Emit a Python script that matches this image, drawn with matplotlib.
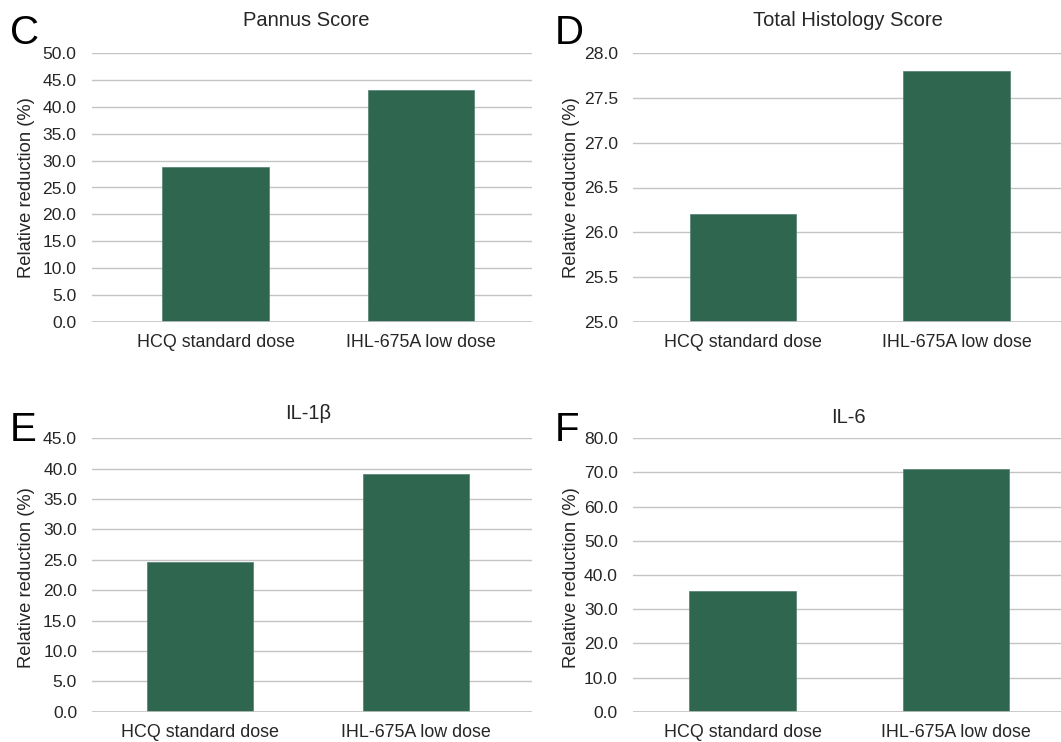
import matplotlib
matplotlib.use("Agg")
import matplotlib.pyplot as plt

plt.rcParams['font.family'] = ['Liberation Sans', 'DejaVu Sans']

categories = ["HCQ standard dose", "IHL-675A low dose"]
panel_letters = ["C", "D", "E", "F"]
titles = ["Pannus Score", "Total Histology Score", "IL-1β", "IL-6"]
pannus = [28.8, 43.2]
total_histology = [26.2, 27.8]
il1b = [24.6, 39.1]
il6 = [35.4, 71.0]
series = [pannus, total_histology, il1b, il6]
ylims = [(0, 50), (25, 28), (0, 45), (0, 80)]
ysteps = [5.0, 0.5, 5.0, 10.0]
ylabel = "Relative reduction (%)"

W, H = 1061, 742
# layout in pixels: left, right, top, bottom of plot area; xlim; bar width
layout = [
    (91.7, 531.7, 53.3, 321.7, (-0.603, 1.538), 0.519),
    (633.3, 1061, 53.3, 321.7, (-0.515, 1.489), 0.498),
    (92.3, 531.7, 438.3, 711.7, (-0.498, 1.537), 0.492),
    (633.0, 1061, 438.3, 711.7, (-0.513, 1.491), 0.498),
]
title_pos = [(306.7, 20.7), (848.3, 20.7), (308, 413.3), (848.3, 417.7)]
letter_pos = [(24.5, 32.5), (569, 32.5), (23.5, 430), (567.5, 430)]
ylabel_pos = [(26.7, 187.5), (571.7, 187.5), (26.7, 578), (571.7, 578)]

bar_color = "#2e6650"
grid_color = "#c4c4c4"
text_color = "#262626"

fig = plt.figure(figsize=(W / 100, H / 100), dpi=100)

for i in range(4):
    l, r, t, b, xl, bw = layout[i]
    ax = fig.add_axes([l / W, 1 - b / H, (r - l) / W, (b - t) / H])
    lo, hi = ylims[i]
    ax.bar(range(len(categories)), series[i], width=bw, color=bar_color,
           edgecolor="#4f7f6c", linewidth=0.5, zorder=3,
           bottom=0 if lo == 0 else 0)
    ax.set_ylim(lo, hi)
    ax.set_xlim(*xl)
    n = int(round((hi - lo) / ysteps[i]))
    ticks = [lo + k * ysteps[i] for k in range(n + 1)]
    ax.set_yticks(ticks)
    ax.set_yticklabels([f"{v:.1f}" for v in ticks], fontsize=12.6, color=text_color)
    ax.set_xticks(range(len(categories)))
    ax.set_xticklabels(categories, fontsize=12.9, color=text_color)
    ax.tick_params(axis='both', length=0)
    ax.tick_params(axis='y', pad=11)
    ax.tick_params(axis='x', pad=9)
    ax.grid(axis='y', color=grid_color, linewidth=1.0, zorder=0)
    for s in ax.spines.values():
        s.set_visible(False)
    ax.axhline(lo, color=grid_color, linewidth=1.2, zorder=4)
    ax.set_facecolor("none")

    tx, ty = title_pos[i]
    fig.text(tx / W, 1 - ty / H, titles[i], ha='center', va='center',
             fontsize=14.5, color=text_color)
    lx, ly = letter_pos[i]
    fig.text(lx / W, 1 - ly / H, panel_letters[i], ha='center', va='center',
             fontsize=29, color="black")
    yx, yy = ylabel_pos[i]
    fig.text(yx / W, 1 - yy / H, ylabel, ha='center', va='center',
             rotation=90, fontsize=13.2, color=text_color)

fig.savefig("out.png", dpi=100)
